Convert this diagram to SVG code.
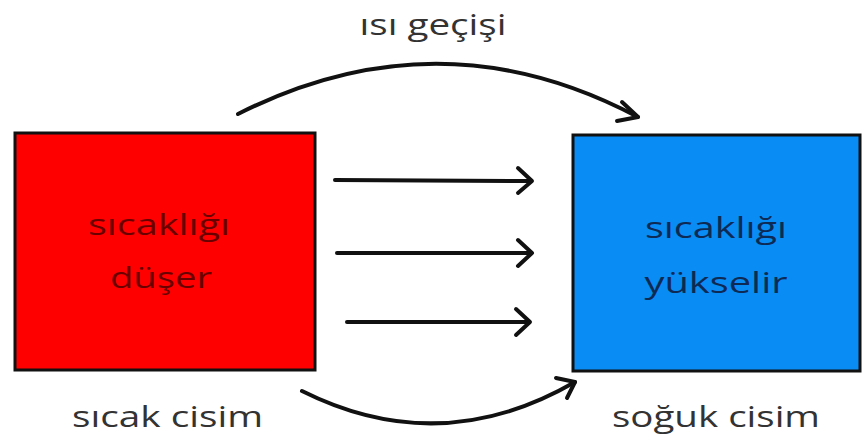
<svg xmlns="http://www.w3.org/2000/svg" width="864" height="440" viewBox="0 0 864 440">
<defs>
<style>
.lbl{font-family:"Open Sans","Noto Sans","Liberation Sans",sans-serif;font-size:29px;font-weight:500;fill:#333}
.in{font-family:"Open Sans","Noto Sans","Liberation Sans",sans-serif;font-size:30px;font-weight:500}
.box{stroke:#111;stroke-width:3}
.con{fill:none;stroke:#111;stroke-width:4;stroke-linecap:round}
.head{fill:none;stroke:#111;stroke-width:4;stroke-linecap:round;stroke-linejoin:round}
</style>
</defs>
<rect width="864" height="440" fill="#fff"/>
<g id="hot">
<rect class="box" x="15" y="133" width="300" height="237" fill="#ff0000"/>
<text class="in" x="159" y="235" text-anchor="middle" fill="#6a0000" textLength="142" lengthAdjust="spacingAndGlyphs">sıcaklığı</text>
<text class="in" x="161" y="288" text-anchor="middle" fill="#6a0000" textLength="102" lengthAdjust="spacingAndGlyphs">düşer</text>
</g>
<g id="cold">
<rect class="box" x="573" y="135" width="287" height="236" fill="#0a8cf5"/>
<text class="in" x="716" y="238" text-anchor="middle" fill="#0d2a55" textLength="142" lengthAdjust="spacingAndGlyphs">sıcaklığı</text>
<text class="in" x="716" y="293" text-anchor="middle" fill="#0d2a55" textLength="143" lengthAdjust="spacingAndGlyphs">yükselir</text>
</g>
<g id="labels">
<text class="lbl" x="433" y="35" text-anchor="middle" textLength="147" lengthAdjust="spacingAndGlyphs">ısı geçişi</text>
<text class="lbl" x="72" y="427" textLength="191" lengthAdjust="spacingAndGlyphs">sıcak cisim</text>
<text class="lbl" x="612" y="427" textLength="208" lengthAdjust="spacingAndGlyphs">soğuk cisim</text>
</g>
<g id="connectors">
<path class="con" d="M238,114 Q440,12 638,117"/>
<path class="head" d="M622,102 L638,117 L617,121"/>
<path class="con" d="M302,391 Q440,460 575,382"/>
<path class="head" d="M556,378 L575,382 L567,398"/>
<line class="con" x1="335" y1="180" x2="531" y2="181"/>
<path class="head" d="M518,168 L532,181 L518,193"/>
<line class="con" x1="337" y1="253" x2="531" y2="253"/>
<path class="head" d="M518,240 L532,253 L518,266"/>
<line class="con" x1="347" y1="322" x2="529" y2="322"/>
<path class="head" d="M516,309 L530,322 L516,335"/>
</g>
</svg>
